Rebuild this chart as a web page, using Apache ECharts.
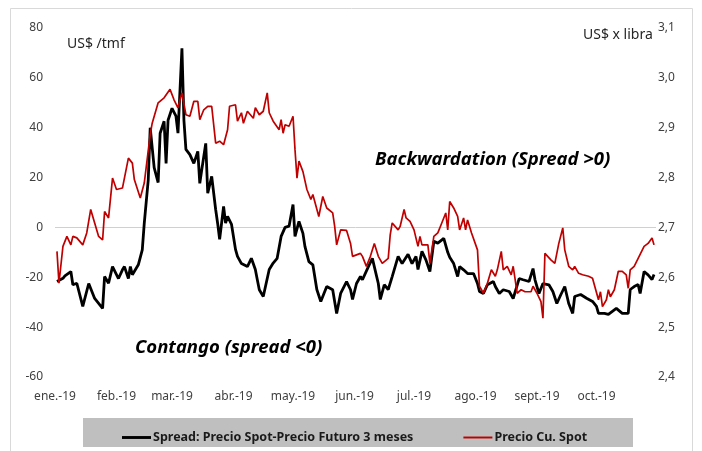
<!DOCTYPE html>
<html>
<head>
<meta charset="utf-8">
<script src="https://cdn.jsdelivr.net/npm/echarts@6/dist/echarts.min.js"></script>
<style>
html,body{margin:0;padding:0;background:#fff;}
#c{width:702px;height:451px;}
</style>
</head>
<body>
<div id="c"></div>
<script>
const YEAR = '2019';
const monthLabels = ['ene.-19','feb.-19','mar.-19','abr.-19','may.-19','jun.-19','jul.-19','ago.-19','sept.-19','oct.-19','nov.-19','dic.-19'];
const leftTicks = {min:-60, max:80, interval:20};
const rightTicks = {min:2.4, max:3.1, interval:0.1};

const spreadDates = ['01-02','01-05','01-06','01-09','01-10','01-12','01-15','01-18','01-21','01-25','01-26','01-28','01-30',
'02-02','02-04','02-05','02-07','02-08','02-09','02-12','02-14','02-15','02-17','02-18','02-20','02-22','02-23','02-25','02-26','02-27',
'03-01','03-03','03-04','03-06','03-07','03-08','03-10','03-12','03-14','03-15','03-16','03-18','03-19','03-21','03-23','03-24','03-25','03-27','03-28','03-29','03-31',
'04-02','04-03','04-05','04-08','04-10','04-12','04-13','04-14','04-16','04-19','04-21','04-23','04-25','04-27','04-29',
'05-01','05-02','05-04','05-06','05-07','05-09','05-11','05-13','05-15','05-16','05-18','05-21','05-23','05-25','05-28','05-30','05-31',
'06-02','06-04','06-05','06-08','06-10','06-13','06-14','06-16','06-18','06-20','06-23','06-25','06-28','06-30',
'07-02','07-03','07-05','07-07','07-09','07-11','07-13','07-16','07-18','07-19','07-21','07-23','07-24','07-26','07-28','07-31',
'08-02','08-03','08-05','08-07','08-10','08-11','08-13','08-15','08-18','08-20','08-23','08-25','08-28','08-30','08-31',
'09-02','09-04','09-07','09-09','09-11','09-13','09-15','09-17','09-19','09-20','09-23','09-24','09-26','09-29',
'10-01','10-02','10-05','10-07','10-09','10-11','10-14','10-15','10-17','10-18','10-20','10-22','10-23','10-25','10-27','10-28','10-29','10-30'];
const spreadValues = [-21.7,-20.4,-19.4,-17.7,-23,-22.4,-31.7,-22.5,-28.5,-32.5,-19.7,-22.4,-15.7,
-20.5,-17,-15.7,-20.5,-15.7,-19,-15,-9,1.6,19,40,24,18,37.8,42.6,25.7,43,
47.8,44.6,37.8,71.9,43,31.3,29.2,25.7,30.5,17.7,23.2,33.7,13.7,20.5,7.2,1.6,-4.8,8.4,1.7,4.4,1.2,
-8.8,-11.6,-14.5,-15.7,-12.4,-16.9,-21,-25,-27.7,-16.9,-14.3,-12.4,-3.6,0,0.5,
9.2,-3.6,2.4,-2.4,-7.6,-13.7,-15,-24.9,-29.7,-27.7,-23.7,-25,-34.5,-26.5,-21.7,-25,-28.9,
-22.5,-19.7,-21,-15.7,-12.4,-22.5,-28.9,-23,-24.9,-19.7,-11.6,-14.5,-10.8,-14.5,
-11.6,-16.9,-9.6,-13,-17.7,-5.6,-6.3,-4.4,-10,-12,-14.5,-19.7,-15.7,-17,-18.5,-18.5,
-22.5,-25.7,-26.5,-23,-21.7,-23.7,-26.5,-25,-25.7,-28.5,-20.5,-21,-21.7,-16.5,-21,
-26.5,-22.5,-23,-25.7,-30.5,-27,-23.7,-30.5,-34.5,-27.7,-26.9,-27.5,-28.4,-29.7,
-31.7,-34.5,-34.5,-34.9,-33.7,-32.5,-34.5,-33.7,-34.5,-24.9,-23.7,-22.9,-26.5,-17.7,-19,-19.7,-20.9,-18.9];

const priceDates = ['01-02','01-03','01-05','01-07','01-08','01-09','01-10','01-12','01-15','01-17','01-19','01-21','01-23','01-25','01-26','01-28','01-30',
'02-01','02-04','02-07','02-09','02-10','02-13','02-15','02-18','02-19','02-22','02-25','02-26','02-28',
'03-02','03-04','03-06','03-08','03-10','03-12','03-14','03-15','03-17','03-19','03-21','03-23','03-25','03-27','03-29','03-30',
'04-02','04-03','04-05','04-06','04-08','04-11','04-12','04-13','04-14','04-16','04-18','04-19','04-21','04-24','04-25','04-26','04-27','04-29',
'05-01','05-02','05-03','05-04','05-06','05-08','05-10','05-11','05-14','05-16','05-18','05-21','05-22','05-23','05-25','05-28','05-30','05-31',
'06-02','06-04','06-05','06-07','06-09','06-11','06-13','06-15','06-18','06-19','06-20','06-23','06-24','06-26','06-27','06-29',
'07-01','07-03','07-04','07-05','07-08','07-09','07-11','07-13','07-15','07-17','07-18','07-19','07-21','07-23','07-24','07-26','07-27','07-28','07-30',
'08-02','08-03','08-05','08-07','08-09','08-11','08-12','08-14','08-15','08-17','08-19','08-20','08-22','08-24','08-26','08-29','08-30',
'09-01','09-03','09-04','09-05','09-08','09-10','09-12','09-14','09-15','09-17','09-19','09-20','09-22','09-24','09-25','09-27','09-29','09-30',
'10-02','10-03','10-04','10-06','10-07','10-08','10-10','10-12','10-14','10-16','10-17','10-18','10-20','10-22','10-23','10-25','10-27','10-28','10-29','10-30'];
const priceValues = [2.652,2.588,2.662,2.682,2.685,2.665,2.682,2.679,2.665,2.689,2.736,2.709,2.682,2.675,2.732,2.719,2.799,
2.776,2.779,2.839,2.829,2.796,2.759,2.789,2.886,2.909,2.950,2.960,2.956,2.977,
2.956,2.940,2.970,2.926,2.923,2.953,2.953,2.916,2.936,2.943,2.943,2.869,2.873,2.866,2.896,2.943,
2.946,2.913,2.930,2.909,2.933,2.919,2.940,2.940,2.926,2.933,2.970,2.930,2.913,2.896,2.916,2.889,2.906,2.903,
2.923,2.856,2.799,2.833,2.812,2.776,2.756,2.766,2.722,2.762,2.739,2.729,2.702,2.665,2.695,2.694,2.668,2.642,
2.645,2.648,2.642,2.622,2.642,2.668,2.642,2.628,2.638,2.685,2.709,2.695,2.702,2.736,2.719,2.712,
2.695,2.662,2.682,2.665,2.665,2.628,2.682,2.689,2.709,2.729,2.695,2.752,2.739,2.722,2.695,2.719,2.695,2.715,2.689,
2.655,2.582,2.568,2.588,2.615,2.602,2.615,2.652,2.615,2.622,2.605,2.622,2.568,2.575,2.571,2.571,2.582,
2.568,2.551,2.518,2.648,2.635,2.628,2.668,2.699,2.655,2.622,2.615,2.622,2.608,2.605,2.602,2.602,2.598,2.602,
2.555,2.571,2.541,2.555,2.575,2.561,2.575,2.612,2.612,2.605,2.578,2.615,2.622,2.638,2.638,2.662,2.668,2.672,2.679,2.665];

const spreadName = 'Spread: Precio Spot-Precio Futuro 3 meses';
const priceName = 'Precio Cu. Spot';

const FONT = '"Noto Sans", "Liberation Sans", sans-serif';

const chart = echarts.init(document.getElementById('c'), null, {renderer:'canvas'});
const spreadData = spreadDates.map((d,i)=>[YEAR+'-'+d, spreadValues[i]]);
const priceData = priceDates.map((d,i)=>[YEAR+'-'+d, priceValues[i]]);

const option = {
  animation:false,
  backgroundColor:'#ffffff',
  textStyle:{fontFamily:FONT},
  grid:{left:55, right:46, top:28, bottom:74, containLabel:false},
  graphic:[
    {type:'rect', z:-10, shape:{x:10.5, y:8.5, width:682, height:460}, style:{fill:'none', stroke:'#d9d9d9', lineWidth:1}},
    {type:'rect', z:-5, shape:{x:83, y:418, width:550, height:29}, style:{fill:'#bfbfbf'}},
    {type:'text', z:10, style:{text:'US$ /tmf', x:67, y:44, fontSize:14, fontFamily:FONT, fill:'#262626', verticalAlign:'middle'}},
    {type:'text', z:10, style:{text:'US$ x libra', x:583, y:35, fontSize:14, fontFamily:FONT, fill:'#262626', verticalAlign:'middle'}},
    {type:'text', z:10, style:{text:'Backwardation (Spread >0)', x:375, y:160, fontSize:18.5, fontWeight:'bold', fontStyle:'italic', fontFamily:FONT, fill:'#000', verticalAlign:'middle'}},
    {type:'text', z:10, style:{text:'Contango (spread <0)', x:135, y:348, fontSize:18.5, fontWeight:'bold', fontStyle:'italic', fontFamily:FONT, fill:'#000', verticalAlign:'middle'}}
  ],
  legend:{
    left:117, top:426, itemWidth:29, itemHeight:14, itemGap:50,
    data:[
      {name:spreadName, icon:'path://M0,6L30,6L30,9L0,9Z'},
      {name:priceName, icon:'path://M0,6.5L30,6.5L30,8.5L0,8.5Z'}
    ],
    textStyle:{fontSize:12.5, fontWeight:'bold', color:'#1a1a1a', fontFamily:FONT, padding:[0,0,0,-3]},
    backgroundColor:'transparent'
  },
  xAxis:{
    type:'time', min:YEAR+'-01-01', max:YEAR+'-10-31', splitNumber:10,
    minInterval:28*86400000, maxInterval:31*86400000,
    axisLine:{show:false}, axisTick:{show:false}, splitLine:{show:false},
    axisLabel:{
      color:'#404040', fontSize:12, margin:14, showMaxLabel:false, showMinLabel:true, hideOverlap:false,
      formatter:function(v){ return monthLabels[new Date(v).getMonth()]; }
    }
  },
  yAxis:[
    {type:'value', min:leftTicks.min, max:leftTicks.max, interval:leftTicks.interval,
     axisLine:{show:false}, axisTick:{show:false}, splitLine:{show:false},
     axisLabel:{color:'#404040', fontSize:12, margin:12}},
    {type:'value', position:'right', min:rightTicks.min, max:rightTicks.max, interval:rightTicks.interval,
     axisLine:{show:false}, axisTick:{show:false}, splitLine:{show:false},
     axisLabel:{color:'#404040', fontSize:12, margin:2, formatter:function(v){return v.toFixed(1).replace('.',',');}}}
  ],
  series:[
    {name:spreadName, type:'line', yAxisIndex:0, data:spreadData, symbol:'none', z:3,
     lineStyle:{color:'#000000', width:2.8}, itemStyle:{color:'#000000'},
     markLine:{silent:true, symbol:'none', label:{show:false}, lineStyle:{color:'#d0d0d0', type:'solid', width:1}, data:[{yAxis:0}], z:1}},
    {name:priceName, type:'line', yAxisIndex:1, data:priceData, symbol:'none', z:4,
     lineStyle:{color:'#c00000', width:1.7}, itemStyle:{color:'#c00000'}}
  ]
};
chart.setOption(option);
</script>
</body>
</html>
